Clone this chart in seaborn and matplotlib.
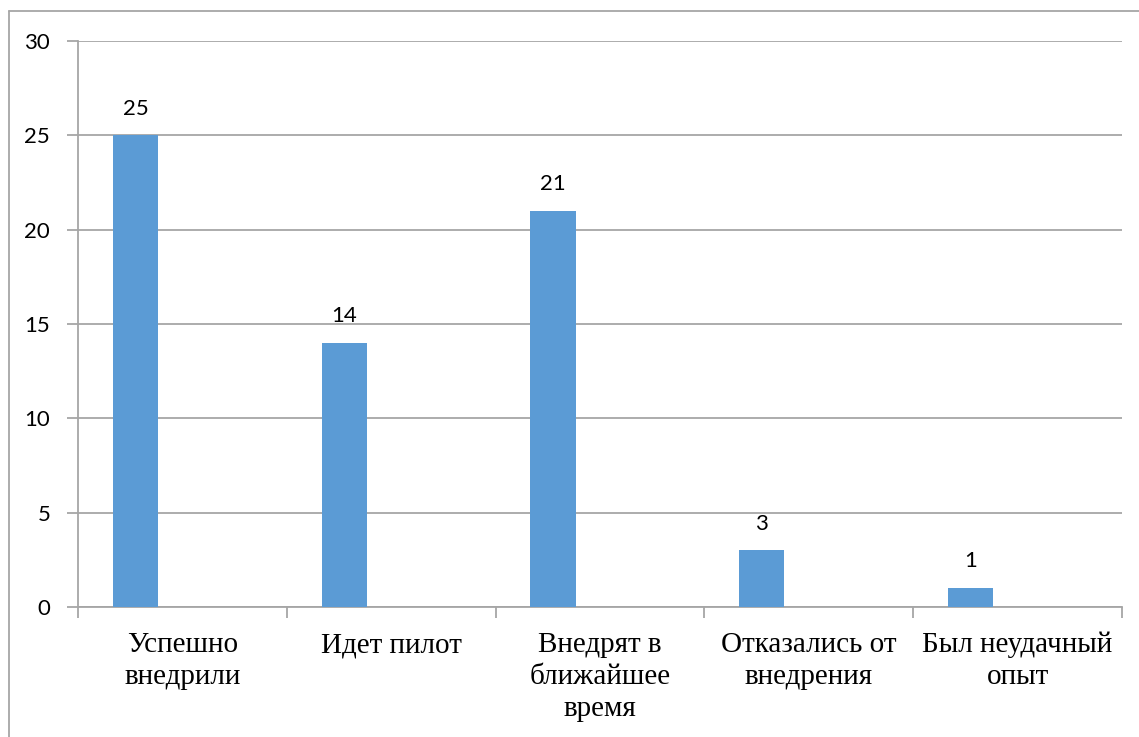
import matplotlib
matplotlib.use("Agg")
import matplotlib.pyplot as plt
from matplotlib.lines import Line2D
from matplotlib.ticker import FixedLocator
import seaborn as sns
import pandas as pd

categories = ["Успешно\nвнедрили", "Идет пилот", "Внедрят в\nближайшее\nвремя",
              "Отказались от\nвнедрения", "Был неудачный\nопыт"]
values = [25, 14, 21, 3, 1]
y_ticks = [0, 5, 10, 15, 20, 25, 30]

sns.set_theme(style="white")
plt.rcParams["font.family"] = ["Lato", "DejaVu Sans"]

GRID = "#a6a6a6"
BAR = "#5b9bd5"

fig = plt.figure(figsize=(11.39, 7.37), dpi=100)
ax = fig.add_axes([78 / 1139, 1 - 607 / 737, (1122 - 78) / 1139, (607 - 41) / 737])

df = pd.DataFrame({"cat": categories, "val": values})
sns.barplot(data=df, x="cat", y="val", color=BAR, width=0.216, saturation=1,
            ax=ax, zorder=3)

# bars sit in the left part of each category slot
shift = -0.225
for p in ax.patches:
    p.set_x(p.get_x() + shift)
    p.set_edgecolor("none")

for p, v in zip(ax.patches, values):
    ax.annotate(f"{v}", (p.get_x() + p.get_width() / 2, v),
                xytext=(0, 12), textcoords="offset points",
                ha="center", va="bottom", fontsize=16, family=["Lato", "DejaVu Sans"],
                color="black")

ax.set_xlim(-0.5, len(categories) - 0.5)
ax.set_ylim(0, 30)
ax.set_yticks(y_ticks)
ax.yaxis.grid(True, color=GRID, linewidth=1.3, zorder=0)
ax.set_axisbelow(True)
ax.set_xlabel("")
ax.set_ylabel("")

for side in ["top", "right"]:
    ax.spines[side].set_visible(False)
ax.spines["left"].set_color(GRID)
ax.spines["left"].set_linewidth(1.3)
ax.spines["bottom"].set_color(GRID)
ax.spines["bottom"].set_linewidth(1.3)

ax.tick_params(axis="y", length=8, width=1.3, color=GRID, left=True,
               labelsize=16, pad=12, labelcolor="black")
ax.tick_params(axis="x", which="major", length=0, pad=18)
ax.xaxis.set_minor_locator(FixedLocator([i - 0.5 for i in range(len(categories) + 1)]))
ax.tick_params(axis="x", which="minor", length=8, width=1.3, color=GRID, bottom=True)
for lab in ax.get_xticklabels():
    lab.set_family(["Liberation Serif", "DejaVu Serif"])
    lab.set_fontsize(21)
    lab.set_linespacing(1.3)
    lab.set_va("top")
    lab.set_color("black")

# chart frame
fig.add_artist(Line2D([9 / 1139, 1.0], [1 - 11 / 737, 1 - 11 / 737],
                      transform=fig.transFigure, color=GRID, linewidth=1.3))
fig.add_artist(Line2D([9 / 1139, 9 / 1139], [1 - 11 / 737, 0.0],
                      transform=fig.transFigure, color=GRID, linewidth=1.3))

fig.savefig("out.png", dpi=100)
